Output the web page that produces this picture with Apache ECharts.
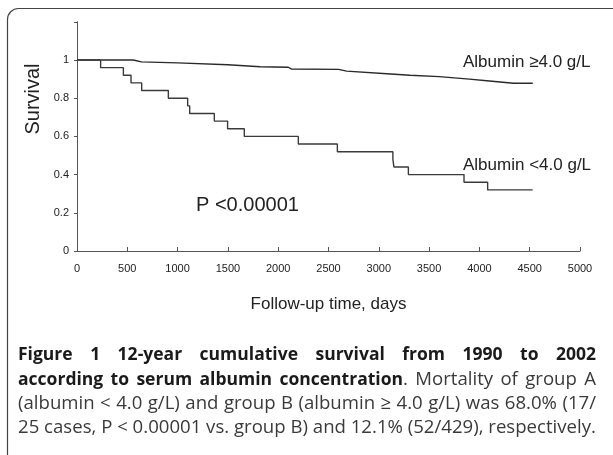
<!DOCTYPE html>
<html lang="en">
<head>
<meta charset="utf-8">
<title>Survival by albumin</title>
<script src="https://cdn.jsdelivr.net/npm/echarts@6/dist/echarts.min.js"></script>
<style>
  html, body { margin: 0; padding: 0; background: #fff; }
  #chart { width: 613px; height: 455px; }
</style>
</head>
<body>
<div id="chart"></div>
<script>
  // albumin >= 4.0 g/L (upper curve), days / survival
  var highDays = [0, 560, 640, 1000, 1500, 1820, 2100, 2130, 2600, 2680, 3080, 3310, 3600, 3900, 4100, 4340, 4530];
  var highSurv = [1, 1, 0.99, 0.985, 0.975, 0.965, 0.962, 0.953, 0.951, 0.942, 0.928, 0.92, 0.913, 0.9, 0.89, 0.878, 0.878];

  // albumin < 4.0 g/L (lower step curve)
  var lowDays = [0, 235, 461, 537, 643, 908, 1100, 1120, 1365, 1497, 1663, 2200, 2588, 3140, 3150, 3294, 3847, 4082, 4530];
  var lowSurv = [1, 0.96, 0.92, 0.88, 0.84, 0.80, 0.76, 0.72, 0.68, 0.64, 0.60, 0.56, 0.52, 0.48, 0.44, 0.40, 0.36, 0.32, 0.32];

  var xTicks = [0, 500, 1000, 1500, 2000, 2500, 3000, 3500, 4000, 4500, 5000];
  var yTicks = [0, 0.2, 0.4, 0.6, 0.8, 1];

  var captionLines = [
    [[['Figure', 1]], [['1', 1]], [['12-year', 1]], [['cumulative', 1]], [['survival', 1]], [['from', 1]], [['1990', 1]], [['to', 1]], [['2002', 1]]],
    [[['according', 1]], [['to', 1]], [['serum', 1]], [['albumin', 1]], [['concentration', 1], ['.', 0]], [['Mortality', 0]], [['of', 0]], [['group', 0]], [['A', 0]]],
    '(albumin < 4.0 g/L) and group B (albumin \u2265 4.0 g/L) was 68.0% (17/',
    '25 cases, P < 0.00001 vs. group B) and 12.1% (52/429), respectively.'
  ];

  function pairs(xs, ys) {
    return xs.map(function (x, i) { return [x, ys[i]]; });
  }

  var capFamily = '"Open Sans"';
  var ctx = document.createElement('canvas').getContext('2d');
  function rawWidth(t, font) {
    ctx.font = font;
    return ctx.measureText(t).width;
  }
  // size the caption fonts so the plain last line and the bold phrase
  // span the same widths as in the printed figure
  var normSize = 10 * 578 / rawWidth(captionLines[3], '10px ' + capFamily);
  var boldSize = 10 * 374 / rawWidth('according to serum albumin concentration', 'bold 10px ' + capFamily);
  var normFont = normSize.toFixed(2) + 'px ' + capFamily;
  var boldFont = 'bold ' + boldSize.toFixed(2) + 'px ' + capFamily;
  function measure(t, bold) {
    return rawWidth(t, bold ? boldFont : normFont);
  }

  // lay caption words out justified between x0 and x1
  function captionElements() {
    var x0 = 18, x1 = 596;
    var ys = [355, 380, 404, 428];
    var els = [];
    captionLines.forEach(function (line, li) {
      var words = typeof line === 'string'
        ? line.split(' ').map(function (w) { return [[w, 0]]; })
        : line;
      var widths = words.map(function (w) {
        return w.reduce(function (s, seg) { return s + measure(seg[0], seg[1]); }, 0);
      });
      var total = widths.reduce(function (a, b) { return a + b; }, 0);
      var gap = li < 3 ? (x1 - x0 - total) / (words.length - 1) : measure(' ', 0);
      var x = x0;
      words.forEach(function (w, wi) {
        var sx = x;
        w.forEach(function (seg) {
          els.push({
            type: 'text', x: sx, y: ys[li],
            style: {
              text: seg[0], font: seg[1] ? boldFont : normFont,
              fill: seg[1] ? '#1a1a1a' : '#3a3a3a', textVerticalAlign: 'middle'
            }
          });
          sx += measure(seg[0], seg[1]);
        });
        x += widths[wi] + gap;
      });
    });
    return els;
  }

  var chart = echarts.init(document.getElementById('chart'));
  var labelFont = 'Liberation Sans';

  var option = {
    animation: false,
    backgroundColor: '#fff',
    grid: { left: 77, right: 33, top: 21.8, bottom: 204 },
    xAxis: {
      type: 'value', min: 0, max: 5000, interval: 500,
      name: 'Follow-up time, days', nameLocation: 'middle', nameGap: 45,
      nameTextStyle: { fontFamily: labelFont, fontSize: 17, color: '#222' },
      axisLine: { lineStyle: { color: '#555', width: 1 } },
      axisTick: { inside: true, length: 4, lineStyle: { color: '#555' } },
      axisLabel: { fontFamily: labelFont, fontSize: 11, color: '#222', margin: 12,
        formatter: function (v) { return xTicks.indexOf(v) >= 0 ? String(v) : ''; } },
      splitLine: { show: false }
    },
    yAxis: {
      type: 'value', min: 0, max: 1.2, interval: 0.2,
      axisLine: { show: true, lineStyle: { color: '#555', width: 1 } },
      axisTick: { show: true, length: 3, lineStyle: { color: '#555' } },
      axisLabel: { fontFamily: labelFont, fontSize: 11, color: '#222', margin: 8,
        formatter: function (v) {
          var r = Math.round(v * 10) / 10;
          return yTicks.indexOf(r) >= 0 ? String(r) : '';
        } },
      splitLine: { show: false }
    },
    series: [
      {
        name: 'Albumin \u22654.0 g/L', type: 'line', data: pairs(highDays, highSurv),
        showSymbol: false, lineStyle: { color: '#2a2a2a', width: 1.4 }
      },
      {
        name: 'Albumin <4.0 g/L', type: 'line', step: 'end', data: pairs(lowDays, lowSurv),
        showSymbol: false, lineStyle: { color: '#3a3a3a', width: 1.4 }
      }
    ],
    graphic: [
      { type: 'rect', shape: { x: 7.5, y: 8.5, width: 700, height: 600, r: 11 },
        style: { fill: 'none', stroke: '#444', lineWidth: 1.2 }, silent: true },
      { type: 'text', x: 33, y: 99, rotation: Math.PI / 2,
        style: { text: 'Survival', font: '20px "Liberation Sans"', fill: '#222',
          textAlign: 'center', textVerticalAlign: 'middle' } },
      { type: 'text', x: 463, y: 62,
        style: { text: 'Albumin \u22654.0 g/L', font: '17px "Liberation Sans"', fill: '#222', textVerticalAlign: 'middle' } },
      { type: 'text', x: 463, y: 165,
        style: { text: 'Albumin <4.0 g/L', font: '17px "Liberation Sans"', fill: '#222', textVerticalAlign: 'middle' } },
      { type: 'text', x: 196, y: 205,
        style: { text: 'P <0.00001', font: '20px "Liberation Sans"', fill: '#222', textVerticalAlign: 'middle' } }
    ].concat(captionElements())
  };

  chart.setOption(option);
</script>
</body>
</html>
